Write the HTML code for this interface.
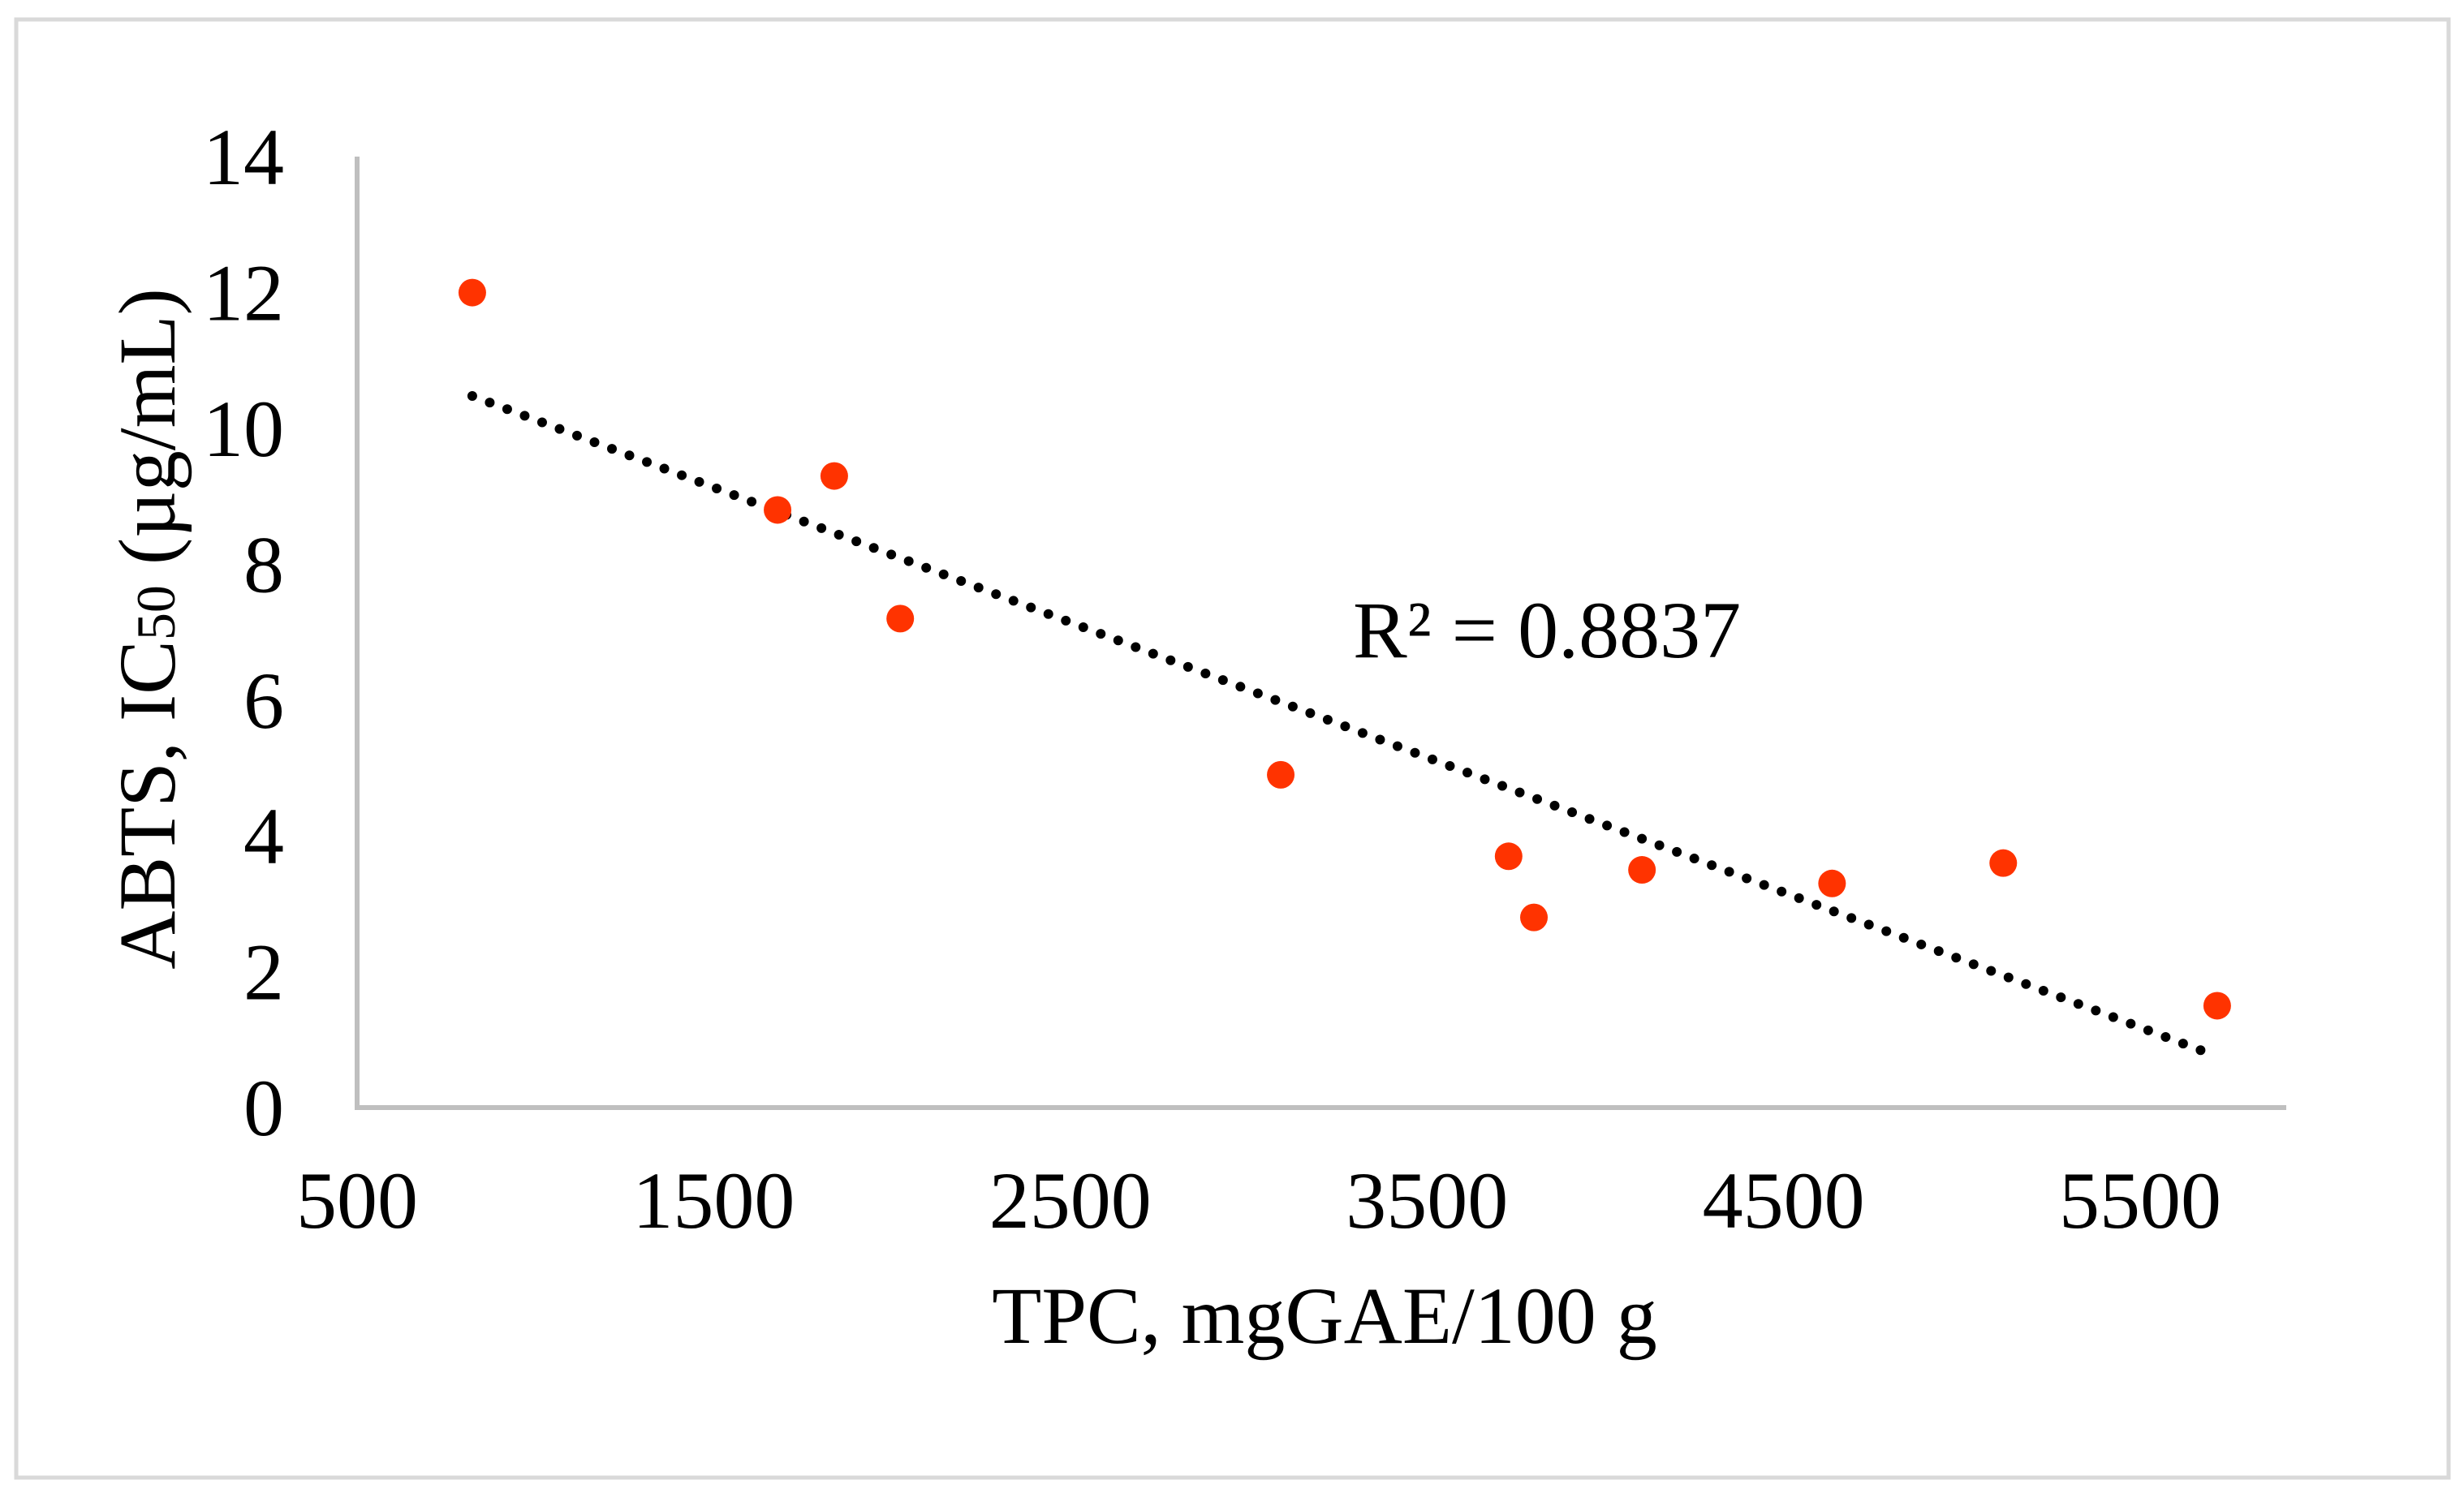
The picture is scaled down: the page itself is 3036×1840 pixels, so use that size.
<!DOCTYPE html>
<html><head><meta charset="utf-8"><style>
html,body{margin:0;padding:0;background:#fff}
svg{display:block}
text{font-family:"Liberation Serif",serif;fill:#000}
</style></head><body>
<svg id="chart" width="3036" height="1840" viewBox="0 0 3036 1840" xmlns="http://www.w3.org/2000/svg">
<rect x="20" y="24" width="2997" height="1797" fill="#fff" stroke="#d9d9d9" stroke-width="5"/>
<g id="grid"></g>
<line x1="440" y1="193" x2="440" y2="1368" stroke="#bfbfbf" stroke-width="6"/>
<line x1="437" y1="1365" x2="2817" y2="1365" stroke="#bfbfbf" stroke-width="6"/>
<g id="yticks"></g><g id="xticks"></g>
<g id="trend"></g><g id="points"></g>
<text x="1667" y="810" font-size="100">R² = 0.8837</text>
<text x="1632" y="1655" font-size="100" text-anchor="middle">TPC, mgGAE/100 g</text>
<text transform="translate(215,775) rotate(-90)" font-size="100" text-anchor="middle">ABTS, IC<tspan font-size="68">50</tspan> (µg/mL)</text>
</svg>
<script>
const xTicks=[500,1500,2500,3500,4500,5500];
const yTicks=[0,2,4,6,8,10,12,14];
const tpc=[823,1679,1838,2023,3090,3729,3800,4103,4636,5116,5716];
const abts=[12.0,8.8,9.3,7.2,4.9,3.7,2.8,3.5,3.3,3.6,1.5];
const NS="http://www.w3.org/2000/svg";
function X(v){return 440+(v-500)*0.4394;}
function Y(v){return 1365-v*83.7;}
function mk(tag,attrs,parent){const e=document.createElementNS(NS,tag);for(const k in attrs)e.setAttribute(k,attrs[k]);document.getElementById(parent).appendChild(e);return e;}
yTicks.forEach(v=>{const t=mk('text',{x:350,y:Y(v)+34,'font-size':100,'text-anchor':'end'},'yticks');t.textContent=v;

});
xTicks.forEach(v=>{const t=mk('text',{x:X(v),y:1513,'font-size':100,'text-anchor':'middle'},'xticks');t.textContent=v;

});
// linear regression trendline
const n=tpc.length;let mx=0,my=0;for(let i=0;i<n;i++){mx+=tpc[i];my+=abts[i];}mx/=n;my/=n;
let sxy=0,sxx=0;for(let i=0;i<n;i++){sxy+=(tpc[i]-mx)*(abts[i]-my);sxx+=(tpc[i]-mx)**2;}
const b=sxy/sxx,a=my-b*mx;const x0=Math.min(...tpc),x1=Math.max(...tpc)-40;
const tl=mk('line',{x1:X(x0),y1:Y(a+b*x0),x2:X(x1),y2:Y(a+b*x1),stroke:'#000','stroke-width':12,'stroke-linecap':'round','stroke-dasharray':'0 23'},'trend');


tpc.forEach((v,i)=>{const c=mk('circle',{cx:X(v),cy:Y(abts[i]),r:17,fill:'#ff3300'},'points');

});
</script>
</body></html>
